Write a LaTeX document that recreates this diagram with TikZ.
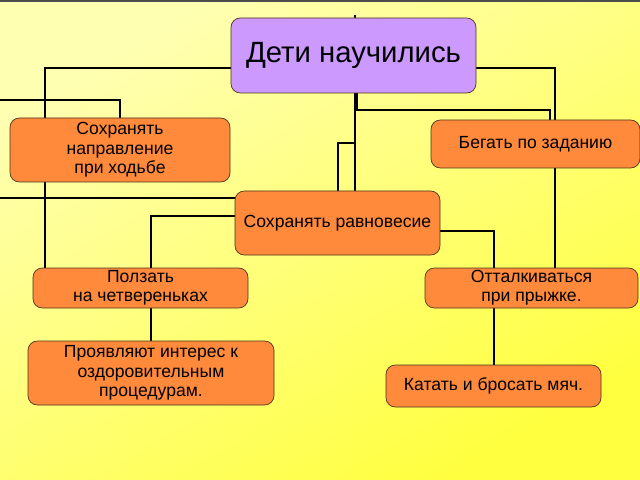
\documentclass[tikz,border=0pt]{standalone}
\usepackage{fontspec}
\setmainfont{Liberation Sans}
\pgfdeclarelayer{bg}
\pgfdeclarelayer{lines}
\pgfsetlayers{bg,lines,main}
\definecolor{org}{HTML}{FF8A3C}
\definecolor{pur}{HTML}{CC99FF}
\begin{document}
\begin{tikzpicture}[x=0.03cm,y=-0.03cm,
 box/.style={draw=black!60!brown,line width=0.6pt,rounded corners=8pt,fill=org,align=center,inner sep=0pt,font=\fontsize{15}{16.5}\selectfont},
 ln/.style={line width=1.4pt,black}]
\useasboundingbox (0,0) rectangle (640,480);
\path
 (353.5,55.5) node[box,fill=pur,minimum width=245*0.03cm,minimum height=75*0.03cm,font=\fontsize{25}{28}\selectfont] (main) {Дети научились}
 (120,150) node[box,minimum width=220*0.03cm,minimum height=64*0.03cm] (sn) {Сохранять\\направление\\ при ходьбе}
 (535.5,144) node[box,minimum width=209*0.03cm,minimum height=48*0.03cm] (beg) {Бегать по заданию}
 (337.5,223) node[box,minimum width=205*0.03cm,minimum height=64*0.03cm] (rav) {Сохранять равновесие}
 (140.5,288) node[box,minimum width=215*0.03cm,minimum height=40*0.03cm] (pol) {Ползать\\на четвереньках}
 (531.5,288) node[box,minimum width=213*0.03cm,minimum height=40*0.03cm] (ott) {Отталкиваться\\ при прыжке.}
 (151,373) node[box,minimum width=246*0.03cm,minimum height=64*0.03cm] (pro) {Проявляют интерес к\\оздоровительным\\ процедурам.}
 (493.5,386) node[box,minimum width=215*0.03cm,minimum height=42*0.03cm] (kat) {Катать и бросать мяч.};
\coordinate (l1) at (0,100);
\coordinate (l2) at (0,198);
\begin{pgfonlayer}{bg}
\shade[top color=yellow!30,bottom color=yellow!75,shading angle=30] (0,0) rectangle (640,480);
\draw[line width=1pt,black!70] (0,1) -- (640,1);
\end{pgfonlayer}
\begin{pgfonlayer}{lines}
\draw[ln] (main.west |- 0,68) -| (45,118) (45,182) -- (pol.north -| 45,0);
\draw[ln] (main.east |- 0,68) -| (555,120) (555,168) -- (ott.north -| 555,0);
\draw[ln] (355,93) -- (rav.north -| 355,0);
\draw[ln] (355,143) -| (338,191);
\draw[ln] (357,93) |- (550,110) -- (beg.north -| 550,0);
\draw[ln] (355,15) -- (355,18);
\draw[ln] (l1) -| (sn.north -| 120,0);
\draw[ln] (l2) -- (rav.west |- 0,198);
\draw[ln] (rav.west |- 0,216) -| (pol.north -| 151,0);
\draw[ln] (pol.south -| 151,0) -- (pro.north -| 151,0);
\draw[ln] (rav.east |- 0,231) -| (ott.south -| 494,0) -- (kat.north -| 494,0);
\end{pgfonlayer}
\end{tikzpicture}
\end{document}
